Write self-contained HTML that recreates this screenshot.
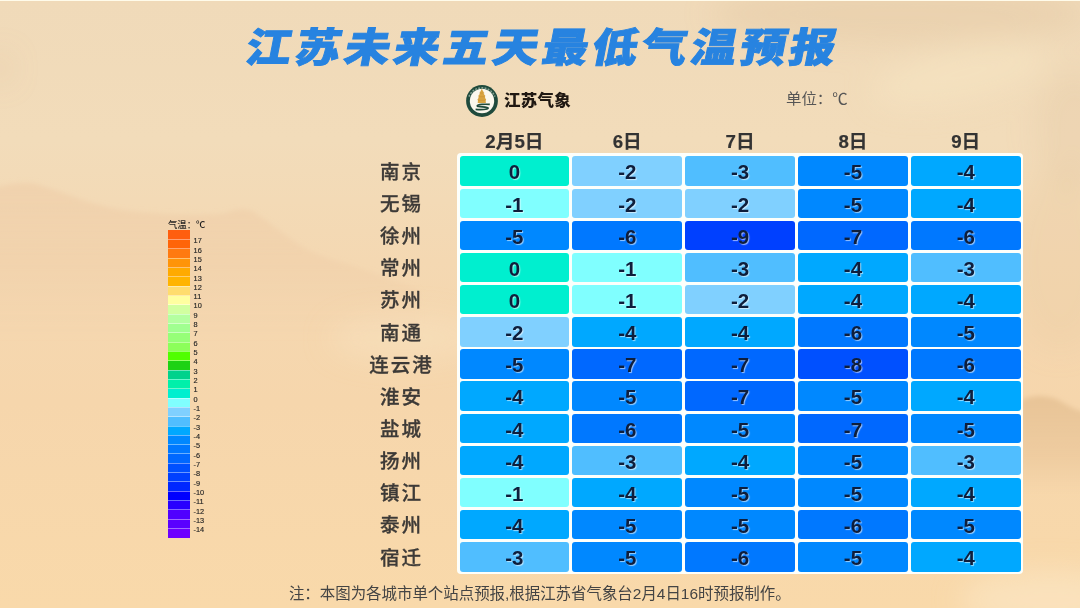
<!DOCTYPE html>
<html lang="zh-CN">
<head>
<meta charset="utf-8">
<title>江苏未来五天最低气温预报</title>
<style>
html,body{margin:0;padding:0;}
body{width:1080px;height:608px;overflow:hidden;position:relative;background:#f3dbb8;font-family:"Liberation Sans","Noto Sans CJK SC",sans-serif;}
#bg{position:absolute;left:0;top:0;width:1080px;height:608px;}
.abs{position:absolute;white-space:nowrap;}
#title{left:-1.3px;top:21.4px;width:1080px;text-align:center;font-family:"Liberation Sans","Noto Sans CJK SC",sans-serif;font-weight:900;font-size:40.3px;line-height:56px;color:#2783e0;letter-spacing:3.4px;text-indent:3.4px;-webkit-text-stroke:0.9px #2783e0;}
#title span{display:inline-block;transform:skewX(-11deg) scaleX(1.132);transform-origin:50% 50%;}
#brand{left:504.2px;top:89.6px;transform:scaleX(1.03);transform-origin:0 50%;font-weight:900;font-size:16px;line-height:22px;color:#201812;letter-spacing:0.3px;}
#unit{left:786.4px;top:88px;font-size:14.5px;line-height:22px;color:#555;transform:scaleX(1.064);transform-origin:0 50%;}
#note{left:288.9px;top:583.2px;font-size:15.44px;line-height:22px;color:#444;}
.head{font-weight:700;font-size:18.7px;line-height:24px;color:#333;text-align:center;width:112px;top:129.7px;-webkit-text-stroke:0.2px #333;}
.city{font-weight:500;font-size:19.5px;line-height:30px;color:#3d3a37;-webkit-text-stroke:0.3px #3d3a37;text-align:center;width:120px;left:340.5px;letter-spacing:2px;text-indent:2px;}
#tbl{left:456.7px;top:153.3px;width:566.6px;height:421px;background:#fdfffb;border-radius:4px;}
.cell{position:absolute;border-radius:3px;text-align:center;font-weight:700;font-size:20.5px;color:#0e1e3c;text-shadow:1px 1px 1px rgba(255,255,255,0.6);}
#tw{position:absolute;left:0;top:0;width:1080px;height:608px;filter:blur(0.45px);}
#lgt{left:167.6px;top:219px;font-size:8.6px;line-height:12px;color:#1e1e1e;font-weight:500;transform:scaleX(1.09);transform-origin:0 50%;}
.lb{position:absolute;left:167.8px;width:22.3px;}
.ll{position:absolute;left:193.6px;font-size:7.35px;line-height:10px;color:#262626;white-space:nowrap;-webkit-text-stroke:0.15px #262626;}
.ln{position:absolute;left:167.8px;width:22.3px;height:1px;background:rgba(255,255,255,0.42);}
</style>
</head>
<body>
<svg id="bg" width="1080" height="608" viewBox="0 0 1080 608">
<defs>
<linearGradient id="g0" x1="0" y1="0" x2="0" y2="1">
<stop offset="0" stop-color="#f0dab9"/>
<stop offset="0.23" stop-color="#f2dcba"/>
<stop offset="0.43" stop-color="#f4d8b2"/>
<stop offset="0.66" stop-color="#f6d6ac"/>
<stop offset="1" stop-color="#f9d9aa"/>
</linearGradient>
<filter id="bl" x="-20%" y="-20%" width="140%" height="140%"><feGaussianBlur stdDeviation="2.5"/></filter>
<filter id="bl3" x="-30%" y="-30%" width="160%" height="160%"><feGaussianBlur stdDeviation="14"/></filter>
<filter id="bl2" x="-20%" y="-20%" width="140%" height="140%"><feGaussianBlur stdDeviation="2.5"/></filter>
<linearGradient id="gm1" gradientUnits="userSpaceOnUse" x1="0" y1="185" x2="0" y2="340">
<stop offset="0" stop-color="#ecc6a0" stop-opacity="0.4"/>
<stop offset="0.5" stop-color="#ecc6a0" stop-opacity="0.28"/>
<stop offset="1" stop-color="#ecc6a0" stop-opacity="0"/>
</linearGradient>
<linearGradient id="gm2" gradientUnits="userSpaceOnUse" x1="0" y1="395" x2="0" y2="495">
<stop offset="0" stop-color="#e2bc8e" stop-opacity="0.7"/>
<stop offset="0.6" stop-color="#e2bc8e" stop-opacity="0.4"/>
<stop offset="1" stop-color="#e2bc8e" stop-opacity="0"/>
</linearGradient>
</defs>
<rect x="0" y="0" width="1080" height="608" fill="url(#g0)"/>
<g filter="url(#bl2)">
<path d="M-20 192 C5 184 25 180 40 185 C70 195 100 208 130 211 C160 214 200 217 225 213 C235 209 245 208 252 211 C270 222 290 240 310 251 C325 258 340 262 360 268 C380 275 400 282 420 290 L420 340 L-20 340 Z" fill="url(#gm1)"/>
</g>
<g filter="url(#bl)">
<path d="M1021 400 C1035 394 1050 395 1062 402 C1072 408 1080 412 1100 416 L1100 500 L1021 500 Z" fill="url(#gm2)"/>
</g>
<g filter="url(#bl3)">
<ellipse cx="900" cy="14" rx="190" ry="30" fill="#dfc09c" opacity="0.32"/>
<ellipse cx="1050" cy="600" rx="90" ry="30" fill="#fbe8c8" opacity="0.6"/>
<ellipse cx="1060" cy="260" rx="50" ry="90" fill="#e6c8a0" opacity="0.25"/>
<ellipse cx="1075" cy="130" rx="40" ry="60" fill="#dfc09c" opacity="0.22"/>
<ellipse cx="960" cy="75" rx="90" ry="28" fill="#f8e6c6" opacity="0.45" transform="rotate(-12 960 75)"/>
<ellipse cx="0" cy="68" rx="10" ry="14" fill="#dfc09c" opacity="0.35"/>
<ellipse cx="405" cy="338" rx="75" ry="22" fill="#fbe6c6" opacity="0.4"/>
</g>
<rect x="0" y="0" width="1080" height="1" fill="#fffbea"/>
</svg>

<div id="title" class="abs"><span>江苏未来五天最低气温预报</span></div>
<svg class="abs" style="left:465.2px;top:83.8px" width="34" height="34" viewBox="0 0 34 34">
<circle cx="17" cy="17" r="15.9" fill="#1f4a3c"/>
<path d="M4 12.6 A14 14 0 0 1 30 12.6" fill="none" stroke="#a9c0b0" stroke-width="1.5" stroke-dasharray="1.9 1.3" opacity="0.75"/>
<circle cx="17" cy="17" r="12.2" fill="#fbf8ee"/>
<g transform="translate(0,-0.7) "><path d="M16.8 5.2 L18.1 8.2 L19 8.6 L18.5 9.8 L19.5 11.8 L20.3 12.2 L19.8 13.4 L20.5 15.4 L21.2 15.9 L20.6 17 L20.9 19.6 L12.7 19.6 L13 17 L12.4 15.9 L13.1 15.4 L13.8 13.4 L13.3 12.2 L14.1 11.8 L15.1 9.8 L14.6 8.6 L15.5 8.2 Z" fill="#d9a441"/>
<path d="M14.2 9.8 L19.4 9.8 M13.4 13.4 L20.2 13.4 M12.8 17 L20.8 17" stroke="#c18a2c" stroke-width="0.6" fill="none" opacity="0.7"/></g>
<path d="M24.8 20.4 C20 19.9 12.8 20.3 12.2 21.7 C11.6 23.2 23 22.6 23.2 24.1 C23.4 25.6 15.5 25.9 10.6 25.4" fill="none" stroke="#1f4a3c" stroke-width="1.6" stroke-linecap="butt"/>
</svg>
<div id="brand" class="abs">江苏气象</div>
<div id="unit" class="abs">单位：℃</div>
<div class="abs head" style="left:458.42px">2月5日</div>
<div class="abs head" style="left:571.26px">6日</div>
<div class="abs head" style="left:684.10px">7日</div>
<div class="abs head" style="left:796.94px">8日</div>
<div class="abs head" style="left:909.78px">9日</div>
<div id="tw"><div id="tbl" class="abs"></div>
<div class="abs city" style="top:156.77px">南京</div>
<div class="cell" style="left:459.50px;top:156.35px;width:109.84px;height:29.45px;line-height:31.35px;background:#00EFCF">0</div>
<div class="cell" style="left:572.34px;top:156.35px;width:109.84px;height:29.45px;line-height:31.35px;background:#80D0FF">-2</div>
<div class="cell" style="left:685.18px;top:156.35px;width:109.84px;height:29.45px;line-height:31.35px;background:#50BEFF">-3</div>
<div class="cell" style="left:798.02px;top:156.35px;width:109.84px;height:29.45px;line-height:31.35px;background:#0088FF">-5</div>
<div class="cell" style="left:910.86px;top:156.35px;width:109.84px;height:29.45px;line-height:31.35px;background:#00A8FF">-4</div>
<div class="abs city" style="top:188.92px">无锡</div>
<div class="cell" style="left:459.50px;top:188.50px;width:109.84px;height:29.45px;line-height:31.35px;background:#80FFFF">-1</div>
<div class="cell" style="left:572.34px;top:188.50px;width:109.84px;height:29.45px;line-height:31.35px;background:#80D0FF">-2</div>
<div class="cell" style="left:685.18px;top:188.50px;width:109.84px;height:29.45px;line-height:31.35px;background:#80D0FF">-2</div>
<div class="cell" style="left:798.02px;top:188.50px;width:109.84px;height:29.45px;line-height:31.35px;background:#0088FF">-5</div>
<div class="cell" style="left:910.86px;top:188.50px;width:109.84px;height:29.45px;line-height:31.35px;background:#00A8FF">-4</div>
<div class="abs city" style="top:221.07px">徐州</div>
<div class="cell" style="left:459.50px;top:220.65px;width:109.84px;height:29.45px;line-height:31.35px;background:#0088FF">-5</div>
<div class="cell" style="left:572.34px;top:220.65px;width:109.84px;height:29.45px;line-height:31.35px;background:#0078FF">-6</div>
<div class="cell" style="left:685.18px;top:220.65px;width:109.84px;height:29.45px;line-height:31.35px;background:#0040FF">-9</div>
<div class="cell" style="left:798.02px;top:220.65px;width:109.84px;height:29.45px;line-height:31.35px;background:#0068FF">-7</div>
<div class="cell" style="left:910.86px;top:220.65px;width:109.84px;height:29.45px;line-height:31.35px;background:#0078FF">-6</div>
<div class="abs city" style="top:253.22px">常州</div>
<div class="cell" style="left:459.50px;top:252.80px;width:109.84px;height:29.45px;line-height:31.35px;background:#00EFCF">0</div>
<div class="cell" style="left:572.34px;top:252.80px;width:109.84px;height:29.45px;line-height:31.35px;background:#80FFFF">-1</div>
<div class="cell" style="left:685.18px;top:252.80px;width:109.84px;height:29.45px;line-height:31.35px;background:#50BEFF">-3</div>
<div class="cell" style="left:798.02px;top:252.80px;width:109.84px;height:29.45px;line-height:31.35px;background:#00A8FF">-4</div>
<div class="cell" style="left:910.86px;top:252.80px;width:109.84px;height:29.45px;line-height:31.35px;background:#50BEFF">-3</div>
<div class="abs city" style="top:285.38px">苏州</div>
<div class="cell" style="left:459.50px;top:284.95px;width:109.84px;height:29.45px;line-height:31.35px;background:#00EFCF">0</div>
<div class="cell" style="left:572.34px;top:284.95px;width:109.84px;height:29.45px;line-height:31.35px;background:#80FFFF">-1</div>
<div class="cell" style="left:685.18px;top:284.95px;width:109.84px;height:29.45px;line-height:31.35px;background:#80D0FF">-2</div>
<div class="cell" style="left:798.02px;top:284.95px;width:109.84px;height:29.45px;line-height:31.35px;background:#00A8FF">-4</div>
<div class="cell" style="left:910.86px;top:284.95px;width:109.84px;height:29.45px;line-height:31.35px;background:#00A8FF">-4</div>
<div class="abs city" style="top:317.53px">南通</div>
<div class="cell" style="left:459.50px;top:317.10px;width:109.84px;height:29.45px;line-height:31.35px;background:#80D0FF">-2</div>
<div class="cell" style="left:572.34px;top:317.10px;width:109.84px;height:29.45px;line-height:31.35px;background:#00A8FF">-4</div>
<div class="cell" style="left:685.18px;top:317.10px;width:109.84px;height:29.45px;line-height:31.35px;background:#00A8FF">-4</div>
<div class="cell" style="left:798.02px;top:317.10px;width:109.84px;height:29.45px;line-height:31.35px;background:#0078FF">-6</div>
<div class="cell" style="left:910.86px;top:317.10px;width:109.84px;height:29.45px;line-height:31.35px;background:#0088FF">-5</div>
<div class="abs city" style="top:349.68px">连云港</div>
<div class="cell" style="left:459.50px;top:349.25px;width:109.84px;height:29.45px;line-height:31.35px;background:#0088FF">-5</div>
<div class="cell" style="left:572.34px;top:349.25px;width:109.84px;height:29.45px;line-height:31.35px;background:#0068FF">-7</div>
<div class="cell" style="left:685.18px;top:349.25px;width:109.84px;height:29.45px;line-height:31.35px;background:#0068FF">-7</div>
<div class="cell" style="left:798.02px;top:349.25px;width:109.84px;height:29.45px;line-height:31.35px;background:#0050FF">-8</div>
<div class="cell" style="left:910.86px;top:349.25px;width:109.84px;height:29.45px;line-height:31.35px;background:#0078FF">-6</div>
<div class="abs city" style="top:381.82px">淮安</div>
<div class="cell" style="left:459.50px;top:381.40px;width:109.84px;height:29.45px;line-height:31.35px;background:#00A8FF">-4</div>
<div class="cell" style="left:572.34px;top:381.40px;width:109.84px;height:29.45px;line-height:31.35px;background:#0088FF">-5</div>
<div class="cell" style="left:685.18px;top:381.40px;width:109.84px;height:29.45px;line-height:31.35px;background:#0068FF">-7</div>
<div class="cell" style="left:798.02px;top:381.40px;width:109.84px;height:29.45px;line-height:31.35px;background:#0088FF">-5</div>
<div class="cell" style="left:910.86px;top:381.40px;width:109.84px;height:29.45px;line-height:31.35px;background:#00A8FF">-4</div>
<div class="abs city" style="top:413.97px">盐城</div>
<div class="cell" style="left:459.50px;top:413.55px;width:109.84px;height:29.45px;line-height:31.35px;background:#00A8FF">-4</div>
<div class="cell" style="left:572.34px;top:413.55px;width:109.84px;height:29.45px;line-height:31.35px;background:#0078FF">-6</div>
<div class="cell" style="left:685.18px;top:413.55px;width:109.84px;height:29.45px;line-height:31.35px;background:#0088FF">-5</div>
<div class="cell" style="left:798.02px;top:413.55px;width:109.84px;height:29.45px;line-height:31.35px;background:#0068FF">-7</div>
<div class="cell" style="left:910.86px;top:413.55px;width:109.84px;height:29.45px;line-height:31.35px;background:#0088FF">-5</div>
<div class="abs city" style="top:446.12px">扬州</div>
<div class="cell" style="left:459.50px;top:445.70px;width:109.84px;height:29.45px;line-height:31.35px;background:#00A8FF">-4</div>
<div class="cell" style="left:572.34px;top:445.70px;width:109.84px;height:29.45px;line-height:31.35px;background:#50BEFF">-3</div>
<div class="cell" style="left:685.18px;top:445.70px;width:109.84px;height:29.45px;line-height:31.35px;background:#00A8FF">-4</div>
<div class="cell" style="left:798.02px;top:445.70px;width:109.84px;height:29.45px;line-height:31.35px;background:#0088FF">-5</div>
<div class="cell" style="left:910.86px;top:445.70px;width:109.84px;height:29.45px;line-height:31.35px;background:#50BEFF">-3</div>
<div class="abs city" style="top:478.28px">镇江</div>
<div class="cell" style="left:459.50px;top:477.85px;width:109.84px;height:29.45px;line-height:31.35px;background:#80FFFF">-1</div>
<div class="cell" style="left:572.34px;top:477.85px;width:109.84px;height:29.45px;line-height:31.35px;background:#00A8FF">-4</div>
<div class="cell" style="left:685.18px;top:477.85px;width:109.84px;height:29.45px;line-height:31.35px;background:#0088FF">-5</div>
<div class="cell" style="left:798.02px;top:477.85px;width:109.84px;height:29.45px;line-height:31.35px;background:#0088FF">-5</div>
<div class="cell" style="left:910.86px;top:477.85px;width:109.84px;height:29.45px;line-height:31.35px;background:#00A8FF">-4</div>
<div class="abs city" style="top:510.43px">泰州</div>
<div class="cell" style="left:459.50px;top:510.00px;width:109.84px;height:29.45px;line-height:31.35px;background:#00A8FF">-4</div>
<div class="cell" style="left:572.34px;top:510.00px;width:109.84px;height:29.45px;line-height:31.35px;background:#0088FF">-5</div>
<div class="cell" style="left:685.18px;top:510.00px;width:109.84px;height:29.45px;line-height:31.35px;background:#0088FF">-5</div>
<div class="cell" style="left:798.02px;top:510.00px;width:109.84px;height:29.45px;line-height:31.35px;background:#0078FF">-6</div>
<div class="cell" style="left:910.86px;top:510.00px;width:109.84px;height:29.45px;line-height:31.35px;background:#0088FF">-5</div>
<div class="abs city" style="top:542.58px">宿迁</div>
<div class="cell" style="left:459.50px;top:542.15px;width:109.84px;height:29.45px;line-height:31.35px;background:#50BEFF">-3</div>
<div class="cell" style="left:572.34px;top:542.15px;width:109.84px;height:29.45px;line-height:31.35px;background:#0088FF">-5</div>
<div class="cell" style="left:685.18px;top:542.15px;width:109.84px;height:29.45px;line-height:31.35px;background:#0078FF">-6</div>
<div class="cell" style="left:798.02px;top:542.15px;width:109.84px;height:29.45px;line-height:31.35px;background:#0088FF">-5</div>
<div class="cell" style="left:910.86px;top:542.15px;width:109.84px;height:29.45px;line-height:31.35px;background:#00A8FF">-4</div>
</div>
<div id="lgt" class="abs">气温：℃</div>
<div class="lb" style="top:230.30px;height:9.62px;background:#FF5E0E"></div>
<div class="lb" style="top:239.62px;height:9.62px;background:#FF6408"></div>
<div class="lb" style="top:248.94px;height:9.62px;background:#FF7A10"></div>
<div class="lb" style="top:258.26px;height:9.62px;background:#FF9408"></div>
<div class="lb" style="top:267.58px;height:9.62px;background:#FFAA00"></div>
<div class="lb" style="top:276.90px;height:9.62px;background:#FFB400"></div>
<div class="lb" style="top:286.22px;height:9.62px;background:#FFDC6E"></div>
<div class="lb" style="top:295.54px;height:9.62px;background:#FFFFA0"></div>
<div class="lb" style="top:304.86px;height:9.62px;background:#D2FFA0"></div>
<div class="lb" style="top:314.18px;height:9.62px;background:#B4FFA0"></div>
<div class="lb" style="top:323.50px;height:9.62px;background:#A0FF90"></div>
<div class="lb" style="top:332.82px;height:9.62px;background:#96FF78"></div>
<div class="lb" style="top:342.14px;height:9.62px;background:#8CFF5A"></div>
<div class="lb" style="top:351.46px;height:9.62px;background:#50FF00"></div>
<div class="lb" style="top:360.78px;height:9.62px;background:#1ED214"></div>
<div class="lb" style="top:370.10px;height:9.62px;background:#00D28C"></div>
<div class="lb" style="top:379.42px;height:9.62px;background:#00F0AA"></div>
<div class="lb" style="top:388.74px;height:9.62px;background:#00EFCF"></div>
<div class="lb" style="top:398.06px;height:9.62px;background:#80FFFF"></div>
<div class="lb" style="top:407.38px;height:9.62px;background:#80D0FF"></div>
<div class="lb" style="top:416.70px;height:9.62px;background:#50BEFF"></div>
<div class="lb" style="top:426.02px;height:9.62px;background:#00A8FF"></div>
<div class="lb" style="top:435.34px;height:9.62px;background:#0088FF"></div>
<div class="lb" style="top:444.66px;height:9.62px;background:#0078FF"></div>
<div class="lb" style="top:453.98px;height:9.62px;background:#0068FF"></div>
<div class="lb" style="top:463.30px;height:9.62px;background:#0050FF"></div>
<div class="lb" style="top:472.62px;height:9.62px;background:#0040FF"></div>
<div class="lb" style="top:481.94px;height:9.62px;background:#0028FF"></div>
<div class="lb" style="top:491.26px;height:9.62px;background:#0000FF"></div>
<div class="lb" style="top:500.58px;height:9.62px;background:#2800FF"></div>
<div class="lb" style="top:509.90px;height:9.62px;background:#5000FF"></div>
<div class="lb" style="top:519.22px;height:9.62px;background:#5A00FF"></div>
<div class="lb" style="top:528.54px;height:9.32px;background:#6E00FF"></div>
<div class="ln" style="top:239.12px"></div>
<div class="ln" style="top:248.44px"></div>
<div class="ln" style="top:257.76px"></div>
<div class="ln" style="top:267.08px"></div>
<div class="ln" style="top:276.40px"></div>
<div class="ln" style="top:285.72px"></div>
<div class="ln" style="top:295.04px"></div>
<div class="ln" style="top:304.36px"></div>
<div class="ln" style="top:313.68px"></div>
<div class="ln" style="top:323.00px"></div>
<div class="ln" style="top:332.32px"></div>
<div class="ln" style="top:341.64px"></div>
<div class="ln" style="top:350.96px"></div>
<div class="ln" style="top:360.28px"></div>
<div class="ln" style="top:369.60px"></div>
<div class="ln" style="top:378.92px"></div>
<div class="ln" style="top:388.24px"></div>
<div class="ln" style="top:397.56px"></div>
<div class="ln" style="top:406.88px"></div>
<div class="ln" style="top:416.20px"></div>
<div class="ln" style="top:425.52px"></div>
<div class="ln" style="top:434.84px"></div>
<div class="ln" style="top:444.16px"></div>
<div class="ln" style="top:453.48px"></div>
<div class="ln" style="top:462.80px"></div>
<div class="ln" style="top:472.12px"></div>
<div class="ln" style="top:481.44px"></div>
<div class="ln" style="top:490.76px"></div>
<div class="ln" style="top:500.08px"></div>
<div class="ln" style="top:509.40px"></div>
<div class="ln" style="top:518.72px"></div>
<div class="ln" style="top:528.04px"></div>
<div class="ll" style="top:236.22px">17</div>
<div class="ll" style="top:245.54px">16</div>
<div class="ll" style="top:254.86px">15</div>
<div class="ll" style="top:264.18px">14</div>
<div class="ll" style="top:273.50px">13</div>
<div class="ll" style="top:282.82px">12</div>
<div class="ll" style="top:292.14px">11</div>
<div class="ll" style="top:301.46px">10</div>
<div class="ll" style="top:310.78px">9</div>
<div class="ll" style="top:320.10px">8</div>
<div class="ll" style="top:329.42px">7</div>
<div class="ll" style="top:338.74px">6</div>
<div class="ll" style="top:348.06px">5</div>
<div class="ll" style="top:357.38px">4</div>
<div class="ll" style="top:366.70px">3</div>
<div class="ll" style="top:376.02px">2</div>
<div class="ll" style="top:385.34px">1</div>
<div class="ll" style="top:394.66px">0</div>
<div class="ll" style="top:403.98px">-1</div>
<div class="ll" style="top:413.30px">-2</div>
<div class="ll" style="top:422.62px">-3</div>
<div class="ll" style="top:431.94px">-4</div>
<div class="ll" style="top:441.26px">-5</div>
<div class="ll" style="top:450.58px">-6</div>
<div class="ll" style="top:459.90px">-7</div>
<div class="ll" style="top:469.22px">-8</div>
<div class="ll" style="top:478.54px">-9</div>
<div class="ll" style="top:487.86px">-10</div>
<div class="ll" style="top:497.18px">-11</div>
<div class="ll" style="top:506.50px">-12</div>
<div class="ll" style="top:515.82px">-13</div>
<div class="ll" style="top:525.14px">-14</div>
<div id="note" class="abs">注：本图为各城市单个站点预报,根据江苏省气象台2月4日16时预报制作。</div>
</body></html>
